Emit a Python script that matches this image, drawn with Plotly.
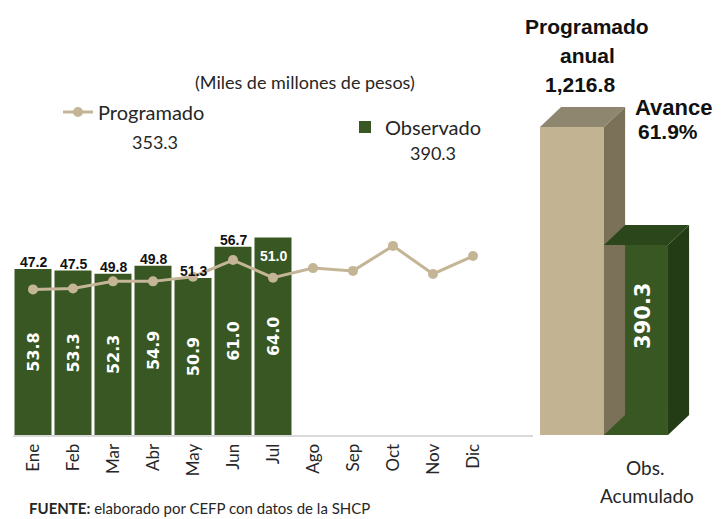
import math
import plotly.graph_objects as go

# ---------------- data ----------------
meses = ["Ene", "Feb", "Mar", "Abr", "May", "Jun", "Jul", "Ago", "Sep", "Oct", "Nov", "Dic"]
observado = [53.8, 53.3, 52.3, 54.9, 50.9, 61.0, 64.0]
programado = [47.2, 47.5, 49.8, 49.8, 51.3, 56.7, 51.0, 54.1, 53.2, 61.3, 52.2, 58.0]
total_programado = "353.3"
total_observado = "390.3"
acum_labels = ["Programado anual", "Obs. Acumulado"]
acum_values = [1216.8, 390.3]
avance_text = "61.9%"

# page body margin of 8px is compensated for
OFF = 8
W, H = 723, 519
FW, FH = W - OFF, H - OFF
def px(x):
    return (x - OFF) / FW
def py(y):
    return 1 - (y - OFF) / FH

GREEN = "#385723"
TAN_LINE = "#c4b596"
FONT = "Lato"
BOLD = "Liberation Sans"

fig = go.Figure()

# ---------------- left panel ----------------
fig.add_trace(go.Bar(
    x=meses[:len(observado)], y=observado, name="Observado",
    marker=dict(color=GREEN, line=dict(width=0)),
    text=[f"{v:.1f}" for v in observado], textposition="inside",
    insidetextanchor="middle", textangle=-90,
    textfont=dict(family="DejaVu Sans", size=16, color="white", weight="bold"),
    xaxis="x", yaxis="y", legend="legend2", hoverinfo="skip",
))
fig.add_trace(go.Scatter(
    x=meses, y=programado, name="Programado", mode="lines+markers",
    line=dict(color=TAN_LINE, width=3), marker=dict(color=TAN_LINE, size=10),
    xaxis="x", yaxis="y", legend="legend", hoverinfo="skip",
))

annotations = []
for i, v in enumerate(observado):
    inside = programado[i] < observado[i] - 10
    annotations.append(dict(
        x=meses[i], y=v, xref="x", yref="y", text=f"{programado[i]:.1f}",
        showarrow=False, yanchor="top" if inside else "bottom",
        yshift=-8 if inside else -3,
        font=dict(family=BOLD, size=14, color="white" if inside else "#111111", weight="bold"),
    ))

# ---------------- right panel (3D columns) ----------------
y_lo = 1.796
y_hi = 3.533
base = 10 ** y_lo
dx = 0.33
k = 10 ** 0.0837
face_colors = [
    dict(front="#c2b393", top="#8f8670", side="#7b7159"),
    dict(front="#385723", top="#2c461b", side="#243c16"),
]
for i, (lab, v) in enumerate(zip(acum_labels, acum_values)):
    c = face_colors[i]
    x0, x1 = i - 0.5, i + 0.5
    fig.add_trace(go.Scatter(
        x=[x1, x1, x1 + dx, x1 + dx, x1], y=[base, v, v * k, base * k, base],
        fill="toself", fillcolor=c["side"], line=dict(width=0), mode="lines",
        xaxis="x2", yaxis="y2", showlegend=False, hoverinfo="skip"))
    fig.add_trace(go.Scatter(
        x=[x0, x1, x1 + dx, x0 + dx, x0], y=[v, v, v * k, v * k, v],
        fill="toself", fillcolor=c["top"], line=dict(width=0), mode="lines",
        xaxis="x2", yaxis="y2", showlegend=False, hoverinfo="skip"))
    fig.add_trace(go.Bar(
        x=[i], y=[v], width=1.0, marker=dict(color=c["front"], line=dict(width=0)),
        xaxis="x2", yaxis="y2", showlegend=False, hoverinfo="skip"))

annotations.append(dict(
    x=1, y=math.log10(acum_values[1]), xref="x2", yref="y2", text=f"{acum_values[1]:.1f}",
    textangle=-90, showarrow=False, yanchor="top", yshift=-36, xshift=7,
    font=dict(family="DejaVu Sans", size=21, color="white", weight="bold")))

# ---------------- texts ----------------
def txt(t, x, y, size, family=FONT, color="#262626", bold=False, xanchor="center"):
    annotations.append(dict(
        x=px(x), y=py(y), xref="paper", yref="paper", text=t, showarrow=False,
        xanchor=xanchor, yanchor="middle",
        font=dict(family=family, size=size, color=color, weight="bold" if bold else "normal")))

txt("(Miles de millones de pesos)", 305, 82, 18)
txt(total_programado, 155, 142, 18)
txt(total_observado, 433, 153, 18)
txt("Programado", 587, 26, 21, family=BOLD, color="#111111", bold=True)
txt("anual", 587, 55, 21, family=BOLD, color="#111111", bold=True)
txt("1,216.8", 580, 85, 21, family=BOLD, color="#111111", bold=True)
txt("Avance", 673, 107, 22, family=BOLD, color="#111111", bold=True)
txt(avance_text, 668, 131, 21, family=BOLD, color="#111111", bold=True)
txt("Obs.", 645, 467, 19)
txt("Acumulado", 647, 495, 19)
txt("<b>FUENTE:</b> elaborado por CEFP con datos de la SHCP", 27, 508, 15, xanchor="left")

fig.update_layout(
    width=FW, height=FH, margin=dict(l=0, r=0, t=0, b=0),
    paper_bgcolor="white", plot_bgcolor="rgba(0,0,0,0)",
    bargap=0.075, barmode="overlay",
    xaxis=dict(domain=[px(13), px(533)], range=[-0.5, 12.5], type="category",
               categoryorder="array", categoryarray=meses,
               showline=True, linecolor="#d9d9d9", linewidth=2, showgrid=False,
               zeroline=False, tickangle=-90, ticks="", ticklabelstandoff=0,
               tickfont=dict(family=FONT, size=17, color="#262626"), automargin=False),
    yaxis=dict(domain=[py(435), py(126.5)], range=[0, 100], visible=False),
    xaxis2=dict(domain=[px(520), 1.0], range=[-0.8125, 2.36], visible=False),
    yaxis2=dict(domain=[py(435), py(20)], type="log", range=[y_lo, y_hi], visible=False,
                anchor="x2"),
    legend=dict(x=px(58), y=py(112), xanchor="left", yanchor="middle",
                font=dict(family=FONT, size=20, color="#262626"),
                bgcolor="rgba(0,0,0,0)", itemwidth=30),
    legend2=dict(x=px(345), y=py(127), xanchor="left", yanchor="middle",
                 font=dict(family=FONT, size=20, color="#262626"),
                 bgcolor="rgba(0,0,0,0)", itemwidth=30),
    annotations=annotations,
    showlegend=True,
)

fig.write_html("out.html")
